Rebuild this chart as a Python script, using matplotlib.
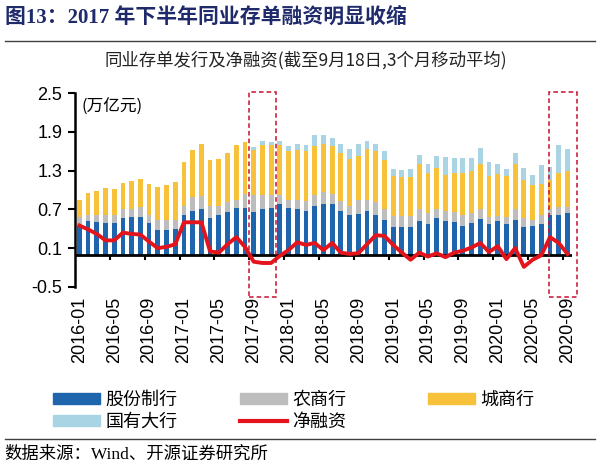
import matplotlib
matplotlib.use('Agg')
import matplotlib.pyplot as plt
import matplotlib.patches as mpatches
from matplotlib.lines import Line2D
import numpy as np
import pandas as pd

plt.rcParams['font.family'] = ['Liberation Sans', 'Noto Sans CJK SC']

# month categories, 2016-01 .. 2020-09
months = list(pd.date_range('2016-01', periods=57, freq='MS').strftime('%Y-%m'))

# 股份制行
gufen = [0.45, 0.52, 0.50, 0.49, 0.49, 0.57, 0.58, 0.58, 0.49, 0.38, 0.38, 0.40,
         0.61, 0.67, 0.70, 0.56, 0.61, 0.66, 0.72, 0.72, 0.66, 0.70, 0.72, 0.79,
         0.72, 0.70, 0.67, 0.76, 0.79, 0.78, 0.67, 0.61, 0.63, 0.67, 0.61, 0.54,
         0.43, 0.43, 0.42, 0.52, 0.47, 0.57, 0.52, 0.50, 0.45, 0.49, 0.55, 0.47,
         0.52, 0.47, 0.54, 0.42, 0.44, 0.48, 0.61, 0.62, 0.64]
# 农商行
nongshang = [0.13, 0.09, 0.11, 0.12, 0.12, 0.14, 0.13, 0.16, 0.12, 0.15, 0.15, 0.14,
             0.15, 0.22, 0.20, 0.20, 0.15, 0.15, 0.12, 0.22, 0.26, 0.22, 0.20, 0.13,
             0.12, 0.14, 0.16, 0.16, 0.18, 0.16, 0.16, 0.15, 0.21, 0.17, 0.20, 0.17,
             0.16, 0.16, 0.17, 0.19, 0.17, 0.14, 0.15, 0.16, 0.16, 0.15, 0.16, 0.11,
             0.08, 0.11, 0.17, 0.14, 0.10, 0.13, 0.09, 0.11, 0.10]
# 城商行
chengshang = [0.27, 0.34, 0.38, 0.42, 0.41, 0.40, 0.43, 0.43, 0.49, 0.52, 0.55, 0.58,
              0.67, 0.73, 0.82, 0.71, 0.72, 0.76, 0.85, 0.80, 0.70, 0.78, 0.78, 0.78,
              0.77, 0.78, 0.77, 0.76, 0.74, 0.74, 0.75, 0.72, 0.69, 0.79, 0.80, 0.75,
              0.62, 0.61, 0.61, 0.69, 0.63, 0.63, 0.57, 0.60, 0.66, 0.66, 0.69, 0.64,
              0.65, 0.64, 0.70, 0.60, 0.54, 0.49, 0.45, 0.54, 0.55]
# 国有大行
guoyou = [0.0, 0.0, 0.0, 0.0, 0.0, 0.0, 0.0, 0.0, 0.0, 0.0, 0.0, 0.0,
          0.0, 0.0, 0.0, 0.0, 0.0, 0.01, 0.01, 0.01, 0.05, 0.06, 0.04, 0.06,
          0.07, 0.10, 0.10, 0.17, 0.14, 0.12, 0.13, 0.15, 0.18, 0.13, 0.11, 0.14,
          0.12, 0.11, 0.13, 0.14, 0.14, 0.18, 0.27, 0.24, 0.22, 0.19, 0.25, 0.21,
          0.16, 0.11, 0.16, 0.18, 0.16, 0.29, 0.20, 0.43, 0.35]
# 净融资
jingrongzi = [0.45, 0.39, 0.32, 0.22, 0.22, 0.34, 0.32, 0.31, 0.20, 0.10, 0.12, 0.16,
              0.50, 0.50, 0.50, 0.05, 0.03, 0.16, 0.27, 0.12, -0.11, -0.13, -0.13, -0.02,
              0.07, 0.19, 0.15, 0.18, 0.07, 0.18, 0.03, 0.01, 0.02, 0.16, 0.30, 0.29,
              0.15, 0.03, -0.08, 0.03, -0.03, 0.02, -0.04, 0.03, 0.06, 0.11, 0.18, 0.04,
              0.13, -0.07, 0.10, -0.19, -0.08, -0.01, 0.27, 0.18, 0.01]

yticks = [2.5, 1.9, 1.3, 0.7, 0.1, -0.5]

c_blue = '#1F65AE'
c_gray = '#BDBDBD'
c_yellow = '#F7C23A'
c_lblue = '#A8D4E4'
c_red = '#E3141B'

fig = plt.figure(figsize=(6, 4.68), dpi=100)
ax = fig.add_axes([0.125, 0.387, 0.828, 0.414])

x = np.arange(len(months))
w = 0.55
b1 = np.array(gufen)
b2 = b1 + np.array(nongshang)
b3 = b2 + np.array(chengshang)
ax.bar(x, gufen, w, color=c_blue, zorder=2)
ax.bar(x, nongshang, w, bottom=b1, color=c_gray, zorder=2)
ax.bar(x, chengshang, w, bottom=b2, color=c_yellow, zorder=2)
ax.bar(x, guoyou, w, bottom=b3, color=c_lblue, zorder=2)
ax.plot(x, jingrongzi, color=c_red, lw=2.8, zorder=4)

ax.axhline(0, color='black', lw=2, zorder=3)
ax.vlines(np.arange(3.5, len(months), 4), -0.09, 0, color='black', lw=1.5, zorder=3)

# dashed highlight boxes
for x0, x1 in [(19.5, 22.6), (53.9, 57.1)]:
    ax.add_patch(mpatches.Rectangle((x0, -0.66), x1 - x0, 3.17, fill=False,
                                    edgecolor='#C8102E', ls=(0, (3, 2)), lw=1.1,
                                    clip_on=False, zorder=5))

ax.set_xlim(-0.5, len(months) - 0.5)
ax.set_ylim(-0.5, 2.5)
ax.set_yticks(yticks)
ax.set_yticklabels(['%.1f' % v for v in yticks], fontsize=13)
ax.tick_params(axis='y', direction='out', length=5, width=1.5, pad=4)
ax.set_xticks(x[::4])
ax.set_xticklabels(months[::4], rotation=90, fontsize=13)
ax.tick_params(axis='x', length=0, pad=7)
for s in ['top', 'right', 'bottom']:
    ax.spines[s].set_visible(False)
ax.spines['left'].set_linewidth(1.8)

ax.text(0.3, 2.42, '(万亿元)', fontsize=12, va='top', ha='left',
        family=['Noto Sans CJK SC'])

# title, subtitle
fig.text(0.008, 0.962, '图13：2017 年下半年同业存单融资明显收缩', fontsize=15,
         fontweight='bold', color='#1F2A6B', va='center', ha='left',
         family=['Liberation Serif', 'Noto Sans CJK SC'])
fig.add_artist(Line2D([0.008, 0.992], [0.912, 0.912], color='#404040', lw=1))
fig.text(0.51, 0.872, '同业存单发行及净融资(截至9月18日,3个月移动平均)', fontsize=12.5,
         ha='center', va='center', color='#222222', family=['Noto Sans CJK SC'])

# legend, three columns
def h_patch(c):
    return mpatches.Patch(color=c)

cols = [
    (0.088, [h_patch(c_blue), h_patch(c_lblue)], ['股份制行', '国有大行']),
    (0.40, [h_patch(c_gray), Line2D([], [], color=c_red, lw=3)], ['农商行', '净融资']),
    (0.713, [h_patch(c_yellow)], ['城商行']),
]
for xpos, hs, ls in cols:
    fig.legend(hs, ls, loc='upper left', bbox_to_anchor=(xpos, 0.164), frameon=False,
               handlelength=2.6, handleheight=0.55, handletextpad=0.3,
               labelspacing=0.2, borderaxespad=0, borderpad=0,
               prop={'family': 'Noto Sans CJK SC', 'size': 13})

fig.add_artist(Line2D([0.008, 0.992], [0.062, 0.062], color='#404040', lw=1))
fig.text(0.008, 0.028, '数据来源：Wind、开源证券研究所', fontsize=12.5, va='center',
         ha='left', family=['Liberation Serif', 'Noto Sans CJK SC'])

fig.savefig('out.png', dpi=100)
